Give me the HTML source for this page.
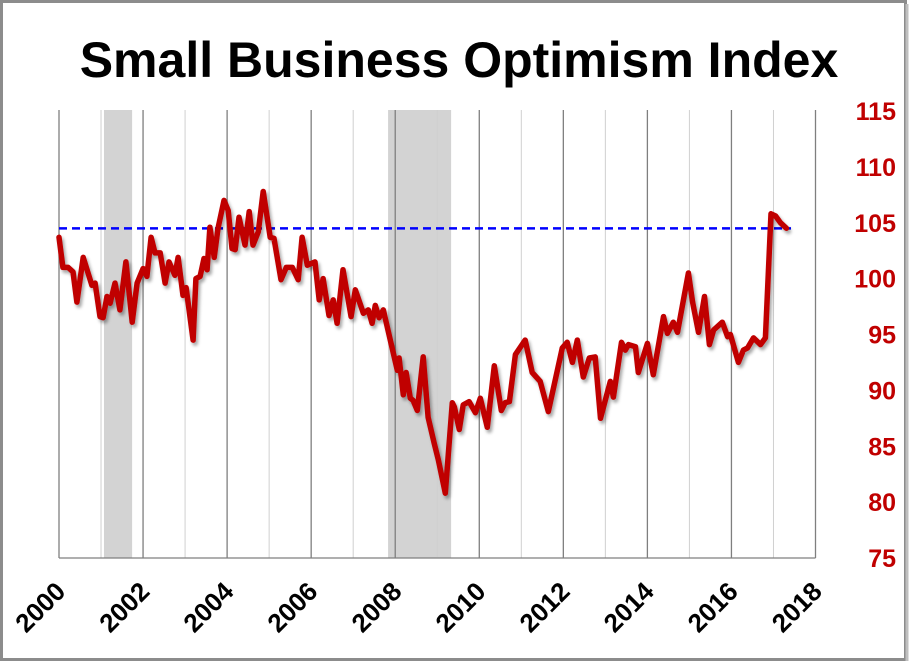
<!DOCTYPE html>
<html><head><meta charset="utf-8"><style>
html,body{margin:0;padding:0;background:#fff;}
svg{display:block;font-family:"Liberation Sans",sans-serif;}
</style></head><body>
<svg id="chart" width="912" height="663" viewBox="0 0 912 663">
<defs>
<filter id="sh" x="-5%" y="-5%" width="110%" height="110%"><feDropShadow dx="2" dy="3" stdDeviation="1.5" flood-color="#000" flood-opacity="0.35"/></filter>
</defs>
<rect x="1.5" y="1.5" width="904" height="658" fill="#fff" stroke="#8c8c8c" stroke-width="3"/>
<line x1="907" y1="4" x2="907" y2="661" stroke="#bfbfbf" stroke-width="3"/>
<text x="459" y="77" text-anchor="middle" font-size="50" font-weight="bold" fill="#000">Small Business Optimism Index</text>
<g id="plot"></g>
</svg>
<script>
const months = [0,1.1,2.6,4,5.1,6.9,9.4,10.3,11.7,12.6,13.7,14.6,16,17.4,19.1,20.9,22.3,24,25.1,26.3,27.4,28.9,30.3,31.4,33.1,34,35.4,36.3,38.3,39.1,40.3,41.4,42.3,43.1,44.3,45.4,47.1,48.3,49.4,50.3,51.4,53.1,54.3,55.4,56.9,58.3,60.3,61.4,63.4,64.9,66.6,68.3,69.4,70.9,73.1,74.3,75.4,77.1,78.3,79.4,81.1,83.4,84.6,86.9,88.3,89.4,90.3,91.4,92.6,94.6,96.6,97.1,98.3,99.1,100.3,101.1,102.3,104,105.4,107.1,108.3,110.3,112.3,112.9,114.3,115.4,117.1,118.9,120.3,122.3,124.3,126.3,127.4,128.6,130.3,133.1,135.1,137.4,139.7,143.7,145.1,146.6,148,149.7,151.4,153.1,154.6,157.4,158.3,160.6,161.7,162.6,164.6,165.4,168,169.7,172.6,173.7,175.4,176.6,179.7,180.9,182.6,184.3,185.7,186.9,189.4,190.9,191.7,194,195.4,196.6,198.3,200.3,201.7,203.3,204.6,206,207.7];
const values = [103.7,101.0,101.0,100.6,97.9,101.9,99.4,99.6,96.6,96.5,98.4,97.8,99.6,97.2,101.5,96.1,99.6,100.9,100.2,103.7,102.3,102.3,99.6,101.5,100.3,101.9,98.5,99.2,94.5,100.0,100.2,101.8,100.8,104.6,101.9,104.5,107.0,106.1,102.7,102.6,105.5,103.0,106.0,103.0,104.2,107.8,103.7,103.6,99.9,101.0,101.0,99.9,103.7,101.2,101.5,98.1,100.0,96.7,98.1,96.0,100.8,96.6,99.0,96.9,97.2,96.0,97.6,96.5,97.2,94.5,91.8,92.9,89.6,91.6,89.3,89.1,88.2,93.0,87.6,85.3,83.8,80.8,88.9,88.5,86.5,88.7,89.0,88.0,89.3,86.7,92.2,88.2,88.9,89.0,93.2,94.5,91.6,90.8,88.1,93.8,94.3,92.5,94.5,91.2,92.9,93.0,87.5,90.8,89.4,94.3,93.6,94.1,93.9,91.6,94.2,91.4,96.6,95.1,96.1,95.2,100.5,97.9,95.2,98.4,94.1,95.4,96.1,94.8,95.0,92.5,93.6,93.8,94.7,94.1,94.7,105.8,105.6,105.0,104.5];
const yTicks = [75,80,85,90,95,100,105,110,115];
const xTicks = [2000,2002,2004,2006,2008,2010,2012,2014,2016,2018];
const recessions = [[2001.07,2001.74],[2007.83,2009.33]];
const avgLine = [104.5];

const NS='http://www.w3.org/2000/svg';
const X0=59, X1=815.5, Y0=558, Y1=111;
const xYear = y => X0 + (y-2000)*(X1-X0)/18;
const xMonth = m => xYear(2000 + m/12);
const yVal = v => Y0 - (v-75)*(Y0-Y1)/40;
const plot=document.getElementById('plot');
function mk(t,a){const e=document.createElementNS(NS,t);for(const k in a)e.setAttribute(k,a[k]);plot.appendChild(e);return e;}

recessions.forEach(r=>{
  const e=mk('rect',{x:xYear(r[0]),y:110,width:xYear(r[1])-xYear(r[0]),height:Y0-110,fill:'#d3d3d3'});
  
  
});
for(let yr=2000;yr<=2018;yr++){
  const even=yr%2===0;
  const e=mk('line',{x1:xYear(yr),x2:xYear(yr),y1:110,y2:Y0,stroke:even?'#7f7f7f':'#d0d0d0','stroke-width':even?1.3:1});
  
  
}
const ax=mk('line',{x1:X0,x2:X1,y1:Y0,y2:Y0,stroke:'#7f7f7f','stroke-width':1.3});



const dl=mk('line',{x1:X0,x2:xMonth(209),y1:yVal(avgLine[0]),y2:yVal(avgLine[0]),stroke:'#0000ff','stroke-width':2.5,'stroke-dasharray':'8,5'});



let d='';
months.forEach((m,i)=>{d+=(i?'L':'M')+xMonth(m).toFixed(1)+','+yVal(values[i]).toFixed(1);});
const p=mk('path',{d:d,fill:'none',stroke:'#c00000','stroke-width':5.5,'stroke-linejoin':'round','stroke-linecap':'round',filter:'url(#sh)'});



yTicks.forEach(v=>{
  const t=mk('text',{x:896,y:yVal(v)+9,'text-anchor':'end','font-size':25,'font-weight':'bold',fill:'#c00000'});
  t.textContent=v;
  
  
});
xTicks.forEach(yr=>{
  const x=xYear(yr)+8, y=593;
  const t=mk('text',{x:x,y:y,'text-anchor':'end','font-size':26,'font-weight':'bold',fill:'#000',transform:`rotate(-45 ${x} ${y})`});
  t.textContent=yr;
  
  
});
</script>
</body></html>
